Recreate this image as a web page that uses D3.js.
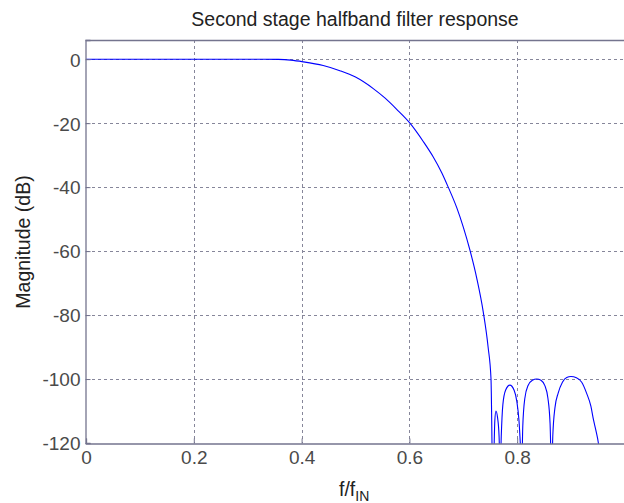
<!DOCTYPE html>
<html>
<head>
<meta charset="utf-8">
<script src="https://cdn.jsdelivr.net/npm/d3@7"></script>
<style>
  html, body { margin: 0; padding: 0; background: #fff; }
  svg { display: block; }
  text { font-family: "Liberation Sans", Arial, sans-serif; }
</style>
</head>
<body>
<svg id="chart" width="624" height="503"></svg>
<script>
// ---- data ----
const freq = [0, 0.05, 0.10, 0.15, 0.20, 0.25, 0.30, 0.33, 0.357, 0.38, 0.403, 0.44, 0.471, 0.50, 0.533, 0.555, 0.576, 0.601, 0.626, 0.644, 0.660, 0.672, 0.688, 0.700, 0.712, 0.725, 0.737, 0.746, 0.7514, 0.7545,
  0.7565, 0.7585, 0.7605, 0.7635, 0.7664, 0.7684,
  0.7704, 0.7734, 0.7784, 0.7864, 0.7943, 0.7993, 0.8033, 0.8063, 0.8083,
  0.8103, 0.8142, 0.8202, 0.8282, 0.8361, 0.8441, 0.8511, 0.8570, 0.8610, 0.8640,
  0.8660, 0.8700, 0.8760, 0.8839, 0.8919, 0.8998, 0.9098, 0.9197, 0.9287, 0.9367, 0.9416, 0.9466, 0.9506, 0.9556];
const magnitude = [0, 0, 0, 0, 0, 0, 0, 0, -0.05, -0.3, -0.83, -2.0, -3.6, -5.6, -9.2, -12.2, -15.6, -20, -25.8, -30.5, -35.5, -40, -46.5, -52.5, -59.5, -68.5, -79, -90, -100, -130,
  -125, -113, -110, -112, -118, -130,
  -118, -108, -103.5, -101.9, -103.5, -107, -113, -122, -130,
  -115, -106, -102, -100.4, -100, -100.4, -102, -106, -114, -130,
  -118, -109, -104.4, -101, -99.5, -99.2, -99.6, -101, -104.4, -108.5, -112.8, -116.5, -120, -128];
const xTicks = [0, 0.2, 0.4, 0.6, 0.8];
const yTicks = [0, -20, -40, -60, -80, -100, -120];
const titleText = "Second stage halfband filter response";
const yLabelText = "Magnitude (dB)";

// ---- layout ----
const svg = d3.select("#chart");
const plotLeft = 86, plotTop = 40, plotBottom = 443, plotRight = 625;
const x = d3.scaleLinear().domain([0, 1]).range([plotLeft, plotRight]);
const y = d3.scaleLinear().domain([-120, 6]).range([plotBottom, plotTop]);

const axisColor = "#74748e";
const gridColor = "#86869a";
const labelColor = "#4a4a4a";
const fontSize = "19px";

svg.append("defs").append("clipPath").attr("id", "clip")
  .append("rect").attr("x", plotLeft).attr("y", plotTop).attr("width", plotRight - plotLeft).attr("height", plotBottom - plotTop + 1);

// grid
const grid = svg.append("g");
grid.selectAll("line.vg").data(xTicks.filter(d => d > 0)).join("line")
  .attr("x1", d => Math.round(x(d)) + 0.5).attr("x2", d => Math.round(x(d)) + 0.5)
  .attr("y1", plotTop).attr("y2", plotBottom)
  .attr("stroke", gridColor).attr("stroke-width", 1).attr("stroke-dasharray", "3,3");
grid.selectAll("line.hg").data(yTicks.filter(d => d > -120)).join("line")
  .attr("x1", plotLeft).attr("x2", plotRight)
  .attr("y1", d => Math.round(y(d)) + 0.5).attr("y2", d => Math.round(y(d)) + 0.5)
  .attr("stroke", gridColor).attr("stroke-width", 1).attr("stroke-dasharray", "3,3");

// curve
const line = d3.line().x((d, i) => x(freq[i])).y(d => y(d)).curve(d3.curveMonotoneX);
svg.append("path")
  .datum(magnitude)
  .attr("clip-path", "url(#clip)")
  .attr("d", line)
  .attr("fill", "none").attr("stroke", "#0000ff").attr("stroke-width", 1.1);

// axes
const xAxis = d3.axisBottom(x).tickValues(xTicks).tickFormat(d => d === 0 ? "0" : d3.format(".1f")(d)).tickSize(-5).tickPadding(7);
const gx = svg.append("g").attr("transform", `translate(0,${plotBottom + 0.5})`).call(xAxis);
const yAxis = d3.axisLeft(y).tickValues(yTicks).tickFormat(d => String(d)).tickSize(-5).tickPadding(5);
const gy = svg.append("g").attr("transform", `translate(${plotLeft - 0.5},0)`).call(yAxis);
[gx, gy].forEach(g => {
  g.select(".domain").attr("stroke", axisColor).attr("stroke-width", 1.3);
  g.selectAll(".tick line").attr("stroke", axisColor);
  g.selectAll(".tick text").attr("fill", labelColor).style("font-size", fontSize)
    .style("font-family", "'Liberation Sans', Arial, sans-serif");
});
gy.selectAll(".tick text").attr("dy", "0.36em");
gx.selectAll(".tick text").attr("dy", "0.72em");
// top border
svg.append("line").attr("x1", plotLeft - 0.5).attr("x2", 624).attr("y1", plotTop + 0.5).attr("y2", plotTop + 0.5)
  .attr("stroke", axisColor).attr("stroke-width", 1.3);

// title and labels
svg.append("text").attr("x", 355).attr("y", 26).attr("text-anchor", "middle")
  .attr("fill", "#222").style("font-size", "19.5px").text(titleText);
svg.append("text").attr("transform", `translate(30,${242}) rotate(-90)`)
  .attr("text-anchor", "middle").attr("fill", "#222").style("font-size", "19.5px").text(yLabelText);
const xl = svg.append("text").attr("x", 339).attr("y", 496).attr("text-anchor", "start")
  .attr("fill", "#222").style("font-size", "19.5px");
xl.append("tspan").text("f/f");
xl.append("tspan").attr("dy", 5).style("font-size", "14px").text("IN");
</script>
</body>
</html>
